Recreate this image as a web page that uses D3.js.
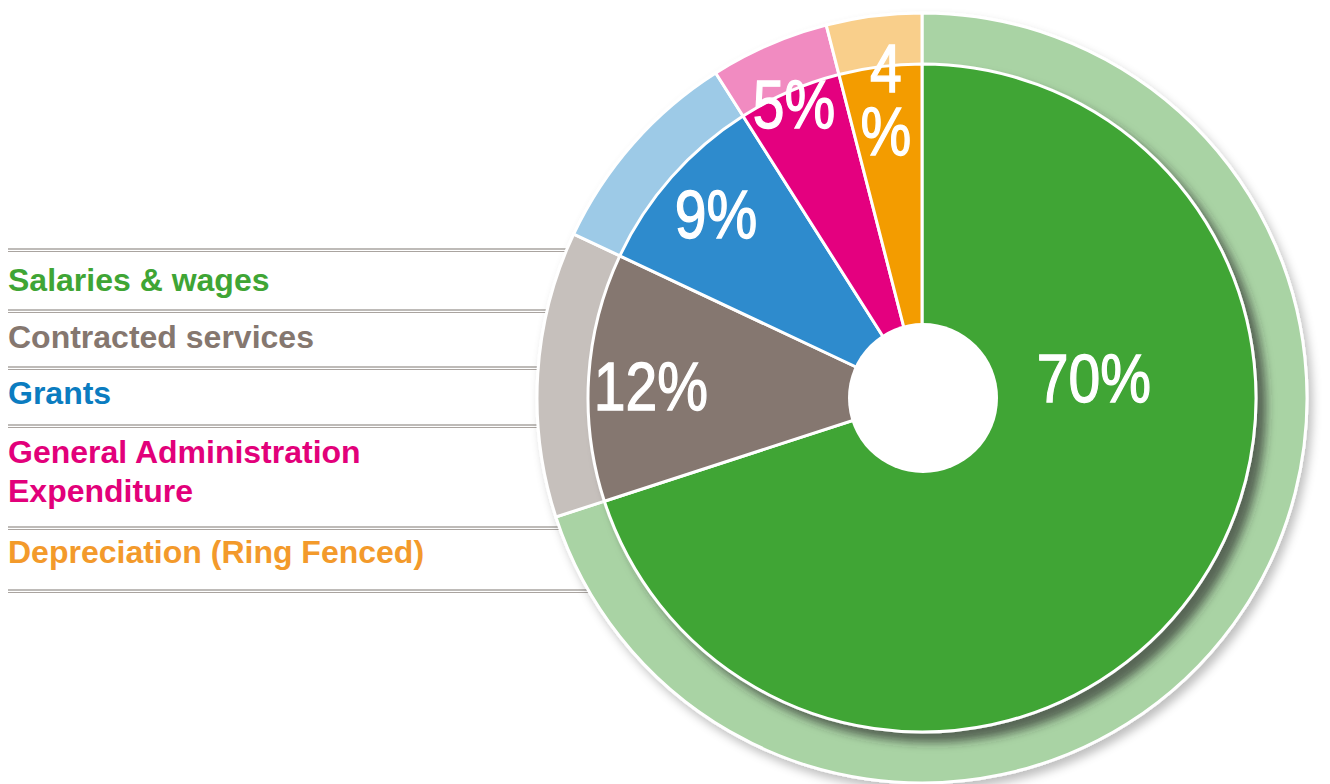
<!DOCTYPE html>
<html>
<head>
<meta charset="utf-8">
<script src="https://cdn.jsdelivr.net/npm/d3@7"></script>
<style>
  html, body { margin: 0; padding: 0; background: #fff; }
  svg { display: block; }
</style>
</head>
<body>
<svg id="chart" width="1330" height="784"></svg>
<script>
// --- dati ---
const categories  = ["Salaries & wages", "Contracted services", "Grants", "General Administration Expenditure", "Depreciation (Ring Fenced)"];
const shares      = [70, 12, 9, 5, 4];
const legendLines = [["Salaries & wages"], ["Contracted services"], ["Grants"], ["General Administration", "Expenditure"], ["Depreciation (Ring Fenced)"]];

// colori: fetta, anello chiaro, testo legenda
const sliceColors  = ["#3fa535", "#85776f", "#2d8bcd", "#e4007f", "#f39c00"];
const ringColors   = ["#a9d3a4", "#c6c0bc", "#9dcae7", "#f18bc1", "#f9cf8b"];
const legendColors = ["#3fa535", "#85776f", "#0b7cc0", "#e2007a", "#f39a2b"];

const svg = d3.select("#chart");
const cx = 922, cy = 398;
const rPie = 334, rRing = 385, rHole = 75;

// --- filtri ombra ---
const defs = svg.append("defs");
function shadow(id, dx, dy, blur, color, op) {
  const f = defs.append("filter").attr("id", id)
    .attr("x", "-20%").attr("y", "-20%").attr("width", "140%").attr("height", "140%");
  f.append("feGaussianBlur").attr("in", "SourceAlpha").attr("stdDeviation", blur).attr("result", "b");
  f.append("feOffset").attr("in", "b").attr("dx", dx).attr("dy", dy).attr("result", "o");
  f.append("feFlood").attr("flood-color", color).attr("flood-opacity", op);
  f.append("feComposite").attr("in2", "o").attr("operator", "in").attr("result", "s");
  const m = f.append("feMerge");
  m.append("feMergeNode").attr("in", "s");
  m.append("feMergeNode").attr("in", "SourceGraphic");
}
shadow("ringShadow", 4, 6, 5, "#000", 0.25);
shadow("pieShadow", 9, 9, 5, "#2b2b2b", 0.65);

// --- legenda: linee doppie ---
const lineYs = [250, 311, 368, 426, 528, 591];
const gLines = svg.append("g");
lineYs.forEach(y => {
  const x2 = cx - Math.sqrt(rRing * rRing - (y - cy) * (y - cy));
  gLines.append("line").attr("x1", 8).attr("x2", x2).attr("y1", y - 1).attr("y2", y - 1)
    .attr("stroke", "#7f7872").attr("stroke-width", 1.2);
  gLines.append("line").attr("x1", 8).attr("x2", x2).attr("y1", y + 1.5).attr("y2", y + 1.5)
    .attr("stroke", "#aaa4a0").attr("stroke-width", 1.2);
});

// testo legenda
const baselines = [[291], [348], [404], [463, 502], [563]];
const gLegend = svg.append("g")
  .attr("font-family", "'Liberation Sans', Arial, Helvetica, sans-serif")
  .attr("font-weight", "bold").attr("font-size", 32);
legendLines.forEach((lines, i) => {
  lines.forEach((t, j) => {
    gLegend.append("text").attr("x", 8).attr("y", baselines[i][j])
      .attr("fill", legendColors[i]).text(t);
  });
});

// --- torta ---
const pie = d3.pie().sort(null).value(d => d)(shares);
const arcPie  = d3.arc().innerRadius(0).outerRadius(rPie);
const arcRing = d3.arc().innerRadius(rPie - 2).outerRadius(rRing);

const gRing = svg.append("g").attr("transform", `translate(${cx},${cy})`).attr("filter", "url(#ringShadow)");
gRing.selectAll("path").data(pie).join("path")
  .attr("d", arcRing)
  .attr("fill", (d, i) => ringColors[i])
  .attr("stroke", "#fff").attr("stroke-width", 3);

const gPie = svg.append("g").attr("transform", `translate(${cx},${cy})`).attr("filter", "url(#pieShadow)");
gPie.selectAll("path").data(pie).join("path")
  .attr("d", arcPie)
  .attr("fill", (d, i) => sliceColors[i])
  .attr("stroke", "#fff").attr("stroke-width", 3).attr("stroke-linejoin", "round");

svg.append("circle").attr("cx", cx + 1).attr("cy", cy).attr("r", rHole).attr("fill", "#fff");

// etichette percentuali (posizione: scostamento dal centro)
const labelAt = [[172, 4], [-271, 12], [-206, -160], [-128, -270], [-36, -306]];
const gLab = svg.append("g")
  .attr("font-family", "'Liberation Sans', Arial, Helvetica, sans-serif")
  .attr("font-size", 68).attr("fill", "#fff")
  .attr("stroke", "#fff").attr("stroke-width", 1.3)
  .attr("text-anchor", "middle");
pie.forEach((d, i) => {
  const [dx, dy] = labelAt[i];
  const narrow = d.value < 4.5;   // fetta stretta: numero e % su due righe
  const parts = narrow ? [String(d.value), "%"] : [d.value + "%"];
  const t = gLab.append("text")
    .attr("transform", `translate(${cx + dx},${cy + dy}) scale(0.84,1)`);
  parts.forEach((p, j) => {
    t.append("tspan").attr("x", 0).attr("y", j * 63).text(p);
  });
});
</script>
</body>
</html>
